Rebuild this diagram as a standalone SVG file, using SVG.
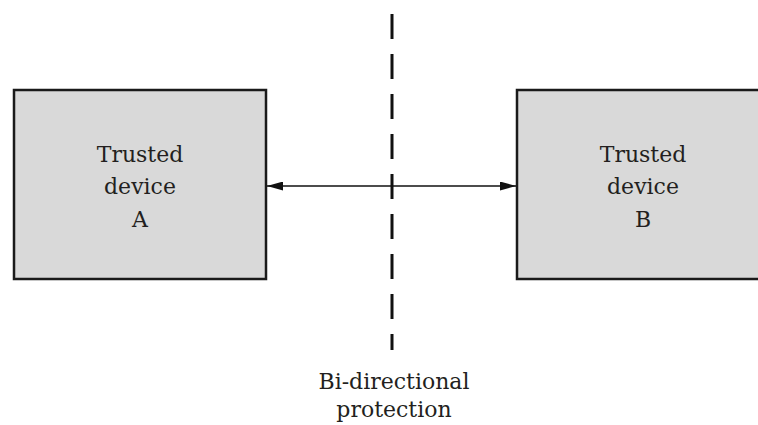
<svg xmlns="http://www.w3.org/2000/svg" width="758" height="425" viewBox="0 0 758 425">
<defs>
<style>
.box{fill:#d9d9d9;stroke:#1a1a1a;stroke-width:2.5}
.lbl{font-family:"DejaVu Serif","Liberation Serif",serif;font-size:22px;fill:#231f20;text-anchor:middle}
.conn{stroke:#111;stroke-width:1.5;fill:none}
.divider{stroke:#111;stroke-width:3;stroke-dasharray:25 15;fill:none}
</style>
<marker id="ah" viewBox="0 0 16 9" refX="16" refY="4.5" markerWidth="16" markerHeight="9" markerUnits="userSpaceOnUse" orient="auto-start-reverse">
<path d="M0,0 L16,4.5 L0,9 Z" fill="#111"/>
</marker>
</defs>
<rect width="758" height="425" fill="#fff"/>
<g id="deviceA">
<rect class="box" x="14" y="90" width="252" height="189"/>
<text class="lbl" x="140" y="162">Trusted</text>
<text class="lbl" x="140" y="194">device</text>
<text class="lbl" x="140" y="227">A</text>
</g>
<g id="deviceB">
<rect class="box" x="517" y="90" width="252" height="189"/>
<text class="lbl" x="643" y="162">Trusted</text>
<text class="lbl" x="643" y="194">device</text>
<text class="lbl" x="643" y="227">B</text>
</g>
<g id="boundary">
<line class="divider" x1="392" y1="14" x2="392" y2="350"/>
<text class="lbl" x="394" y="389">Bi-directional</text>
<text class="lbl" x="394" y="417">protection</text>
</g>
<g id="connectors">
<line class="conn" x1="267" y1="186" x2="516" y2="186" marker-start="url(#ah)" marker-end="url(#ah)"/>
</g>
</svg>
